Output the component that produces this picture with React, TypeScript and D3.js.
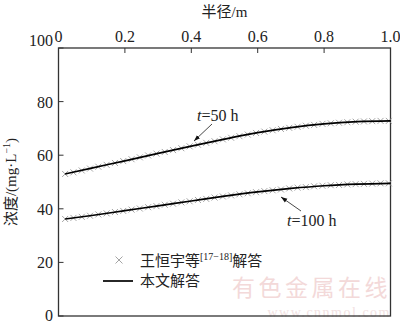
import React from "react";
import * as d3 from "d3";

const xTicks = [0, 0.2, 0.4, 0.6, 0.8, 1.0];
const xTickLabels = ["0", "0.2", "0.4", "0.6", "0.8", "1.0"];
const yTicks = [0, 20, 40, 60, 80, 100];
const yTickLabels = ["0", "20", "40", "60", "80", "100"];

// solid line (本文解答)
const lineR = [0.02, 0.1, 0.2, 0.3, 0.4, 0.5, 0.6, 0.7, 0.8, 0.9, 1.0];
const line50 = [53.0, 55.2, 57.9, 60.7, 63.4, 66.0, 68.4, 70.3, 71.7, 72.5, 72.8];
const line100 = [36.2, 37.5, 39.3, 41.1, 42.9, 44.7, 46.3, 47.6, 48.6, 49.2, 49.5];

// markers (王恒宇等 解答)
const markR = [
  0.02, 0.045, 0.07, 0.095, 0.12, 0.145, 0.17, 0.195, 0.22, 0.245,
  0.27, 0.295, 0.32, 0.345, 0.37, 0.395, 0.42, 0.445, 0.47, 0.495,
  0.52, 0.545, 0.57, 0.595, 0.62, 0.645, 0.67, 0.695, 0.72, 0.745,
  0.77, 0.795, 0.82, 0.845, 0.87, 0.895, 0.92, 0.945, 0.97, 0.995,
];
const mark50 = [
  53.0, 53.6, 54.3, 55.0, 55.7, 56.4, 57.1, 57.8, 58.5, 59.2,
  59.9, 60.6, 61.2, 61.9, 62.6, 63.3, 63.9, 64.6, 65.2, 65.9,
  66.5, 67.1, 67.7, 68.3, 68.8, 69.3, 69.8, 70.2, 70.6, 71.0,
  71.3, 71.7, 71.9, 72.1, 72.3, 72.5, 72.6, 72.7, 72.8, 72.8,
];
const mark100 = [
  36.2, 36.6, 37.0, 37.4, 37.9, 38.3, 38.8, 39.2, 39.7, 40.1,
  40.6, 41.0, 41.5, 41.9, 42.4, 42.8, 43.3, 43.7, 44.2, 44.6,
  45.0, 45.4, 45.8, 46.2, 46.6, 46.9, 47.2, 47.6, 47.9, 48.1,
  48.4, 48.6, 48.8, 48.9, 49.1, 49.2, 49.3, 49.4, 49.5, 49.5,
];

const FONT = "'Liberation Serif', 'Times New Roman', 'Noto Sans CJK SC', serif";
const CJK = "'Noto Sans CJK SC', 'Liberation Serif', serif";

export default function App() {
  const W = 400, H = 323;
  const L = 58.5, R = 390.5, T = 48, B = 316;
  const x = d3.scaleLinear().domain([0, 1]).range([L, R]);
  const y = d3.scaleLinear().domain([0, 100]).range([B, T]);

  const lineGen = d3
    .line<[number, number]>()
    .x((d) => x(d[0]))
    .y((d) => y(d[1]))
    .curve(d3.curveMonotoneX);

  const p50 = lineGen(lineR.map((r, i) => [r, line50[i]]) as [number, number][]) || "";
  const p100 = lineGen(lineR.map((r, i) => [r, line100[i]]) as [number, number][]) || "";

  const cross = (cx: number, cy: number, s: number, key: string) => (
    <path
      key={key}
      d={`M${cx - s},${cy - s}L${cx + s},${cy + s}M${cx - s},${cy + s}L${cx + s},${cy - s}`}
      stroke="#9a9a9a"
      strokeWidth={0.9}
      fill="none"
    />
  );

  return (
    <svg
      width={W}
      height={H}
      style={{ position: "absolute", left: 0, top: 0, background: "#fff" }}
      fontFamily={FONT}
    >
      {/* watermark */}
      <text x={391} y={296} textAnchor="end" fontFamily={CJK} fontSize={23} fill="#f3d9d9" letterSpacing={3.5}>
        有色金属在线
      </text>
      <text x={391} y={317} textAnchor="end" fontFamily={FONT} fontSize={14} fill="#f2e2e2" letterSpacing={1.5}>
        www.cnnmol.com
      </text>

      {/* title */}
      <text x={(L + R) / 2} y={17} textAnchor="middle" fontSize={15} fill="#222">
        <tspan fontFamily={CJK}>半径</tspan>
        <tspan>/m</tspan>
      </text>

      {/* top tick labels */}
      {xTicks.map((t, i) => (
        <text key={"xt" + i} x={x(t)} y={42} textAnchor="middle" fontSize={16} fill="#222">
          {xTickLabels[i]}
        </text>
      ))}
      {/* top ticks */}
      {xTicks.map((t, i) => (
        <line key={"xk" + i} x1={x(t)} x2={x(t)} y1={T} y2={T + 5} stroke="#333" strokeWidth={1} />
      ))}

      {/* left tick labels */}
      {yTicks.map((t, i) => {
        let dy = 6;
        if (t === 100) dy = -2;
        if (t === 0) dy = 5;
        return (
          <text key={"yt" + i} x={53} y={y(t) + dy} textAnchor="end" fontSize={16} fill="#222">
            {yTickLabels[i]}
          </text>
        );
      })}
      {yTicks.map((t, i) => (
        <line key={"yk" + i} x1={L} x2={L + 5} y1={y(t)} y2={y(t)} stroke="#333" strokeWidth={1} />
      ))}

      {/* y label */}
      <text
        transform={`translate(16, ${(T + B) / 2}) rotate(-90)`}
        textAnchor="middle"
        fontSize={15}
        fill="#222"
      >
        <tspan fontFamily={CJK}>浓度</tspan>
        <tspan>/(mg·L</tspan>
        <tspan fontSize={10} dy={-6}>−1</tspan>
        <tspan dy={6}>)</tspan>
      </text>

      {/* frame */}
      <rect x={L} y={T} width={R - L} height={B - T} fill="none" stroke="#333" strokeWidth={1.3} />

      {/* markers */}
      {markR.map((r, i) => cross(x(r), y(mark50[i]), 3, "m50" + i))}
      {markR.map((r, i) => cross(x(r), y(mark100[i]), 3, "m100" + i))}

      {/* lines */}
      <path d={p50} fill="none" stroke="#000" strokeWidth={1.7} />
      <path d={p100} fill="none" stroke="#000" strokeWidth={1.7} />

      {/* annotations */}
      <defs>
        <marker id="ah" viewBox="0 0 10 10" refX="10" refY="5" markerWidth="7" markerHeight="7" orient="auto">
          <path d="M0,1.5L10,5L0,8.5Z" fill="#111" />
        </marker>
      </defs>
      <line x1={212} y1={124} x2={194} y2={141} stroke="#333" strokeWidth={0.9} markerEnd="url(#ah)" />
      <text x={197} y={121} fontSize={16} fill="#222">
        <tspan fontStyle="italic">t</tspan>
        <tspan>=50 h</tspan>
      </text>
      <line x1={301} y1={211} x2={281} y2={197} stroke="#333" strokeWidth={0.9} markerEnd="url(#ah)" />
      <text x={287} y={226} fontSize={16} fill="#222">
        <tspan fontStyle="italic">t</tspan>
        <tspan>=100 h</tspan>
      </text>

      {/* legend */}
      {cross(119, 260, 3.5, "leg")}
      <text x={140} y={266} fontSize={15} fill="#222">
        <tspan fontFamily={CJK}>王恒宇等</tspan>
        <tspan fontSize={10} dy={-6}>[17−18]</tspan>
        <tspan fontFamily={CJK} dy={6}>解答</tspan>
      </text>
      <line x1={103} x2={133} y1={281} y2={281} stroke="#000" strokeWidth={1.7} />
      <text x={140} y={286} fontSize={15} fill="#222" fontFamily={CJK}>
        本文解答
      </text>
    </svg>
  );
}
